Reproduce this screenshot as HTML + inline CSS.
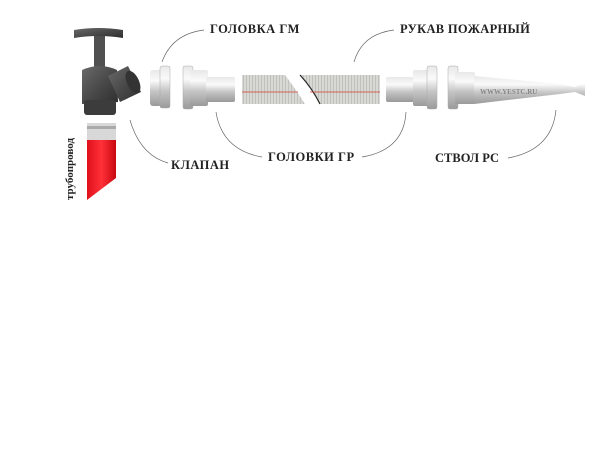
<!DOCTYPE html>
<html><head><meta charset="utf-8"><style>
html,body{margin:0;padding:0;background:#fff;width:600px;height:460px;overflow:hidden}
text{font-family:"Liberation Serif",serif;font-weight:bold;fill:#222}
</style></head><body>
<svg width="600" height="460" viewBox="0 0 600 460" xmlns="http://www.w3.org/2000/svg">
<defs>
<linearGradient id="met" x1="0" y1="0" x2="0" y2="1">
<stop offset="0" stop-color="#e8e8e8"/><stop offset="0.3" stop-color="#fafafa"/><stop offset="0.6" stop-color="#c4c4c4"/><stop offset="1" stop-color="#9a9a9a"/></linearGradient>
<linearGradient id="iron" x1="0" y1="0" x2="1" y2="1">
<stop offset="0" stop-color="#6a6a6a"/><stop offset="0.5" stop-color="#4a4a4a"/><stop offset="1" stop-color="#2e2e2e"/></linearGradient>
<linearGradient id="red" x1="0" y1="0" x2="1" y2="0">
<stop offset="0" stop-color="#e0101a"/><stop offset="0.5" stop-color="#ff3038"/><stop offset="1" stop-color="#c80810"/></linearGradient>
<pattern id="hose" width="3" height="10" patternUnits="userSpaceOnUse"><rect width="3" height="10" fill="#d8d8d4"/><rect width="1" height="10" fill="#c0c0bc"/></pattern>
</defs>
<!-- valve -->
<path d="M74 30 Q98 26 123 30 L123 38 Q98 34 74 38Z" fill="url(#iron)"/>
<rect x="94" y="36" width="11" height="32" fill="#505050"/>
<path d="M82 70 Q100 62 117 70 L118 102 L82 104 Z" fill="url(#iron)"/>
<path d="M108 76 L128 66 L141 92 L120 102 Z" fill="url(#iron)"/>
<ellipse cx="133" cy="82" rx="6" ry="12" transform="rotate(-25 133 82)" fill="#333"/>
<rect x="84" y="100" width="32" height="15" rx="3" fill="#3c3c3c"/>
<!-- pipe -->
<rect x="87" y="123" width="29" height="17" fill="#d8d8d8"/>
<rect x="87" y="126" width="29" height="3" fill="#aaa"/>
<path d="M87 140 L116 140 L116 178 L87 200 Z" fill="url(#red)"/>
<text transform="translate(73 200) rotate(-90)" font-size="11">трубопровод</text>
<!-- GM coupling -->
<rect x="150" y="70" width="20" height="36" rx="3" fill="url(#met)"/>
<rect x="160" y="66" width="10" height="42" rx="2" fill="url(#met)" stroke="#aaa" stroke-width="0.5"/>
<!-- GR coupling left -->
<rect x="183" y="66" width="10" height="43" rx="2" fill="url(#met)" stroke="#aaa" stroke-width="0.5"/>
<rect x="190" y="70" width="18" height="36" rx="2" fill="url(#met)"/>
<rect x="206" y="77" width="29" height="25" rx="2" fill="url(#met)"/>
<!-- hoses -->
<path d="M242 75 L285 75 Q295 88 305 104 L242 104 Z" fill="url(#hose)"/>
<path d="M300 75 L380 75 L380 104 L320 104 Q312 88 300 75 Z" fill="url(#hose)"/>
<path d="M300 75 Q312 88 320 104" stroke="#222" stroke-width="1.2" fill="none"/>
<line x1="242" y1="92" x2="298" y2="92" stroke="#d04030" stroke-width="0.8"/>
<line x1="310" y1="92" x2="380" y2="92" stroke="#d04030" stroke-width="0.8"/>
<!-- GR coupling right -->
<rect x="386" y="77" width="30" height="25" rx="2" fill="url(#met)"/>
<rect x="413" y="70" width="18" height="36" rx="2" fill="url(#met)"/>
<rect x="427" y="66" width="10" height="43" rx="2" fill="url(#met)" stroke="#aaa" stroke-width="0.5"/>
<!-- nozzle -->
<rect x="448" y="66" width="10" height="43" rx="2" fill="url(#met)" stroke="#aaa" stroke-width="0.5"/>
<rect x="455" y="72" width="20" height="32" rx="2" fill="url(#met)"/>
<path d="M474 76 L560 84 L575 87 L585 83 L585 96 L575 92 L560 94 L474 104 Z" fill="url(#met)"/>
<text x="480" y="94" font-size="7" style="fill:#888">WWW.YESTC.RU</text>
<!-- leader curves -->
<g stroke="#666" stroke-width="0.7" fill="none">
<path d="M162 62 Q172 34 204 30"/>
<path d="M354 62 Q362 34 394 30"/>
<path d="M130 120 Q140 155 168 163"/>
<path d="M216 112 Q222 150 262 157"/>
<path d="M406 112 Q404 150 362 157"/>
<path d="M556 110 Q552 150 508 158"/>
</g>
<text x="210" y="33" font-size="12.5" letter-spacing="0.5">ГОЛОВКА  ГМ</text>
<text x="400" y="33" font-size="12.5" letter-spacing="0.3">РУКАВ  ПОЖАРНЫЙ</text>
<text x="171" y="169" font-size="12.5" letter-spacing="0.5">КЛАПАН</text>
<text x="268" y="161" font-size="12.5" letter-spacing="0.5">ГОЛОВКИ  ГР</text>
<text x="435" y="162" font-size="12.5">СТВОЛ РС</text>
</svg>
</body></html>
